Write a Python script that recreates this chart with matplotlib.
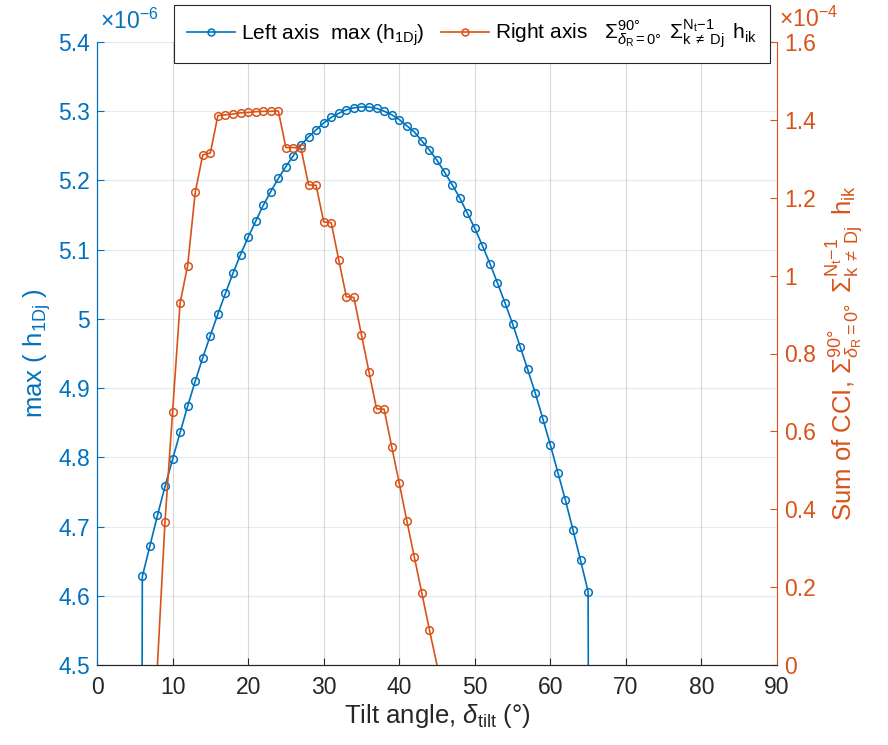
import numpy as np
import matplotlib
matplotlib.use("Agg")
import matplotlib.pyplot as plt
from matplotlib.ticker import FuncFormatter

plt.rcParams['font.family'] = ['Liberation Sans', 'DejaVu Sans']
plt.rcParams['mathtext.fontset'] = 'custom'
plt.rcParams['mathtext.rm'] = 'Liberation Sans'
plt.rcParams['mathtext.it'] = 'Liberation Sans:italic'
plt.rcParams['mathtext.bf'] = 'Liberation Sans:bold'

# left axis: max(h_1Dj), units of 1e-6 (zero at 5 and 66 deg)
tilt_left = list(range(5, 67))
left_vals = [0.0,
             4.628, 4.672, 4.716, 4.758, 4.797, 4.836, 4.874, 4.910, 4.944, 4.976,
             5.007, 5.037, 5.066, 5.093, 5.118, 5.141, 5.164, 5.184, 5.203, 5.220,
             5.236, 5.251, 5.263, 5.273, 5.283, 5.291, 5.297, 5.302, 5.305, 5.306,
             5.306, 5.304, 5.300, 5.295, 5.288, 5.279, 5.270, 5.257, 5.244, 5.229,
             5.212, 5.194, 5.175, 5.153, 5.131, 5.106, 5.080, 5.052, 5.023, 4.993,
             4.960, 4.927, 4.893, 4.856, 4.818, 4.778, 4.738, 4.695, 4.651, 4.606,
             0.0]

# right axis: sum of CCI, units of 1e-4 (zero at 8 and 45 deg)
tilt_right = list(range(8, 46))
right_vals = [0.0,
              0.368, 0.649, 0.930, 1.026, 1.214, 1.310, 1.315, 1.411, 1.413, 1.415,
              1.418, 1.419, 1.421, 1.422, 1.422, 1.423, 1.329, 1.329, 1.327, 1.233,
              1.232, 1.138, 1.136, 1.040, 0.946, 0.944, 0.848, 0.753, 0.658, 0.657,
              0.561, 0.467, 0.371, 0.277, 0.184, 0.090,
              0.0]

blue = '#0072BD'
orange = '#D95319'
dark = '#262626'

fig = plt.figure(figsize=(8.88, 7.45), dpi=100)
ax = fig.add_axes([97 / 888, 1 - 665 / 745, 680 / 888, 623 / 745])
ax2 = ax.twinx()

fmt = FuncFormatter(lambda v, p: '%g' % round(v, 4))

l1, = ax.plot(tilt_left, left_vals, color=blue, lw=1.2, marker='o', ms=5.5, mfc='none',
              mew=1.1, markevery=[v > 0 for v in left_vals])
l2, = ax2.plot(tilt_right, right_vals, color=orange, lw=1.2, marker='o', ms=5.5, mfc='none',
               mew=1.1, markevery=[v > 0 for v in right_vals])

ax.set_xlim(0, 90)
ax.set_ylim(4.5, 5.4)
ax2.set_ylim(0, 1.6)
ax.set_xticks(np.arange(0, 91, 10))
ax.set_yticks(np.arange(4.5, 5.41, 0.1))
ax2.set_yticks(np.arange(0, 1.61, 0.2))
ax.yaxis.set_major_formatter(fmt)
ax2.yaxis.set_major_formatter(fmt)

ax.grid(True, axis='x', color='#d8d8d8', lw=0.8)
ax.grid(True, axis='y', color=blue, alpha=0.13, lw=0.8)
ax.set_axisbelow(True)

for a in (ax, ax2):
    a.tick_params(direction='in', length=5, width=0.8, labelsize=16.5)
    a.spines['top'].set_visible(False)
    a.spines['bottom'].set_color(dark)
ax.tick_params(axis='x', colors=dark, pad=8)
ax.tick_params(axis='y', colors=blue, pad=5)
ax2.tick_params(axis='y', colors=orange, pad=5)
ax.spines['left'].set_color(blue)
ax2.spines['left'].set_color(blue)
ax2.spines['right'].set_color(orange)
ax.spines['right'].set_visible(False)

sigma = (r'$\Sigma^{90°}_{\mathit{\delta}_{\mathrm{R}}\mathrm{=0°}}\ \,'
         r'\Sigma^{\mathrm{N}_{\mathrm{t}}\mathrm{-1}}_{\mathrm{k\;\neq\;Dj}}\ \,$h$_{\mathrm{ik}}$')

ax.set_xlabel(r'Tilt angle, $\mathit{\delta}_{\mathrm{tilt}}$ (°)', fontsize=18.5, color=dark,
              labelpad=2)
ax.set_ylabel(r'max ( h$_{\mathrm{1Dj}}$ )', fontsize=18.5, color=blue, labelpad=4)
ax2.set_ylabel('Sum of CCI, ' + sigma, fontsize=18.5, color=orange, rotation=90,
               labelpad=6)

ax.text(0.004, 1 + 8 / 623, r'$\times$10$^{-6}$', transform=ax.transAxes, fontsize=16.5,
        color=blue, va='bottom', ha='left')
ax2.text(1.003, 1 + 10 / 623, r'$\times$10$^{-4}$', transform=ax.transAxes, fontsize=16.5,
         color=orange, va='bottom', ha='left')

lab1 = r'Left axis  max (h$_{\mathrm{1Dj}}$)'
lab2 = 'Right axis   ' + sigma
leg = ax2.legend([l1, l2], [lab1, lab2], loc='upper center', ncol=2,
                 bbox_to_anchor=(472 / 888, 1 - 5 / 745), bbox_transform=fig.transFigure,
                 fontsize=15, frameon=True, fancybox=False, edgecolor=dark,
                 handlelength=2.3, handletextpad=0.3, columnspacing=0.8,
                 borderpad=0.6, borderaxespad=0, markerscale=0.9)
leg.get_frame().set_linewidth(0.8)
leg.get_frame().set_alpha(1)

fig.savefig('out.png', dpi=100)
